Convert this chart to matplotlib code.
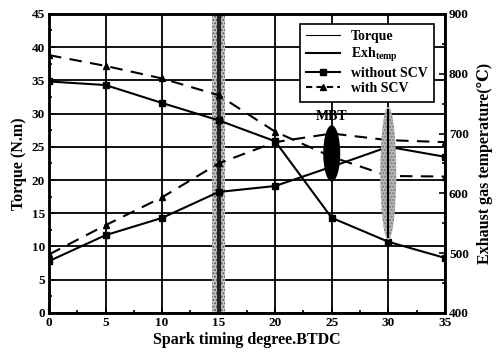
import matplotlib
matplotlib.use("Agg")
import matplotlib.pyplot as plt
from matplotlib.lines import Line2D
from matplotlib.patches import Ellipse, Rectangle
from matplotlib.ticker import MultipleLocator

plt.rcParams['font.family'] = ['Liberation Serif', 'DejaVu Serif']
plt.rcParams['font.weight'] = 'bold'
plt.rcParams['mathtext.fontset'] = 'custom'
plt.rcParams['mathtext.rm'] = 'Liberation Serif:bold'
plt.rcParams['mathtext.it'] = 'Liberation Serif:bold'

# Spark advance (deg BTDC)
spark = [0, 5, 10, 15, 20, 25, 30, 35]

# Torque (N.m)
torque_without_scv = [7.8, 11.7, 14.3, 18.2, 19.1, 22.0, 25.0, 23.5]
torque_with_scv = [8.8, 13.2, 17.4, 22.5, 25.7, 27.0, 26.0, 25.7]

# Exhaust gas temperature (deg C)
exh_without_scv = [787, 781, 751, 722, 687, 559, 519, 492]
exh_with_scv = [831, 813, 792, 764, 703, 661, 629, 628]

x_ticks = [0, 5, 10, 15, 20, 25, 30, 35]
torque_ticks = [0, 5, 10, 15, 20, 25, 30, 35, 40, 45]
temp_ticks = [400, 500, 600, 700, 800, 900]

fig = plt.figure(figsize=(4.97, 3.56), dpi=100)
ax = fig.add_axes([0.0986, 0.121, 0.7964, 0.840])
ax2 = ax.twinx()

lw = 1.5
ax.set_xlim(0, 35)
ax.set_ylim(0, 45)
ax2.set_ylim(400, 900)

ax.set_xticks(x_ticks)
ax.set_yticks(torque_ticks)
ax2.set_yticks(temp_ticks)
ax.xaxis.set_minor_locator(MultipleLocator(2.5))
ax.yaxis.set_minor_locator(MultipleLocator(2.5))
ax2.yaxis.set_minor_locator(MultipleLocator(50))
ax.grid(True, which='major', color='black', lw=1.3)
ax.set_axisbelow(True)

for a in (ax, ax2):
    for s in a.spines.values():
        s.set_linewidth(1.8)
    a.tick_params(which='both', direction='in', labelsize=9.5, width=1.2, pad=3)
    a.tick_params(which='major', length=4)
    a.tick_params(which='minor', length=2.5)
ax.tick_params(axis='y', which='both', right=False)

# Shaded band at 15 deg
ax.add_patch(Rectangle((14.45, 0), 1.1, 45, facecolor='#c8c8c8', edgecolor='#555555',
                       hatch='.....', lw=0, zorder=1.5))
ax.axvline(15, color='#222222', lw=3.0, zorder=1.6)

# Torque curves
ax.plot(spark, torque_without_scv, '-', color='black', lw=lw, marker='s', ms=5, zorder=3)
ax.plot(spark, torque_with_scv, '--', color='black', lw=lw, marker='^', ms=5,
        dashes=(6, 4), zorder=3)

# Exhaust gas temperature curves
ax2.plot(spark, exh_without_scv, '-', color='black', lw=lw, marker='s', ms=5, zorder=3)
ax2.plot(spark, exh_with_scv, '--', color='black', lw=lw, marker='^', ms=5,
         dashes=(6, 4), zorder=3)

# Optimum-timing regions
ax2.add_patch(Ellipse((30, 21), 1.4, 20, transform=ax.transData, facecolor='#b8b8b8',
                      edgecolor='#777777', hatch='.....', lw=0, zorder=4))
ax2.plot([30, 30], [11.5, 30.5], transform=ax.transData, color='black', lw=1.5, zorder=4.5)
ax2.add_patch(Ellipse((25, 24), 1.5, 8.5, transform=ax.transData, facecolor='black',
                      edgecolor='black', lw=0, zorder=5))
ax2.text(25, 28.6, 'MBT', transform=ax.transData, ha='center', va='bottom',
         fontsize=10, fontweight='bold', zorder=6)

for lab in ax.get_xticklabels() + ax.get_yticklabels() + ax2.get_yticklabels():
    lab.set_fontweight('bold')

ax.set_xlabel('Spark timing degree.BTDC', fontsize=11.5, fontweight='bold', labelpad=2)
ax.set_ylabel('Torque (N.m)', fontsize=11.5, fontweight='bold', labelpad=3)
ax2.set_ylabel('Exhaust gas temperature(\u2103)', fontsize=11.5, fontweight='bold',
               labelpad=6)

handles = [
    Line2D([], [], color='black', lw=0.8),
    Line2D([], [], color='black', lw=1.5),
    Line2D([], [], color='black', lw=1.5, marker='s', ms=4),
    Line2D([], [], color='black', lw=1.5, ls='--', marker='^', ms=4, dashes=(3, 2)),
]
labels = ['Torque', 'Exh$_{temp}$', 'without SCV', 'with SCV']
leg = ax2.legend(handles, labels, loc='upper right', bbox_to_anchor=(0.972, 0.967),
                 borderaxespad=0, fancybox=False, edgecolor='black', framealpha=1,
                 handlelength=2.4, borderpad=0.45, labelspacing=0.2, handletextpad=0.8,
                 prop={'weight': 'bold', 'size': 10})
leg.get_frame().set_linewidth(1.2)
leg.set_zorder(10)

fig.savefig('out.png', dpi=100)
